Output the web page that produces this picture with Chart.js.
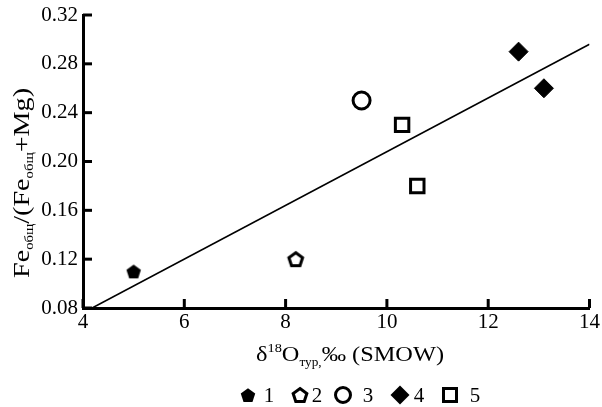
<!DOCTYPE html>
<html>
<head>
<meta charset="utf-8">
<script src="https://cdn.jsdelivr.net/npm/chart.js@4.4.0/dist/chart.umd.min.js"></script>
<style>
  html, body { margin: 0; padding: 0; background: #fff; }
  #wrap { width: 602px; height: 407px; }
</style>
</head>
<body>
<div id="wrap"><canvas id="chart"></canvas></div>
<script>
// Data
const xTicks = [4, 6, 8, 10, 12, 14];
const yTicks = [0.08, 0.12, 0.16, 0.20, 0.24, 0.28, 0.32];

const group1X = [5.0];
const group1Y = [0.11];
const group2X = [8.2];
const group2Y = [0.12];
const group3X = [9.5];
const group3Y = [0.25];
const group4X = [12.6, 13.1];
const group4Y = [0.29, 0.26];
const group5X = [10.3, 10.6];
const group5Y = [0.23, 0.18];

const trendX = [4.18, 14];
const trendY = [0.08, 0.296];

const legendLabels = ['1', '2', '3', '4', '5'];

const SERIF = '"Liberation Serif", "Times New Roman", serif';

function pts(xs, ys) {
    return xs.map((x, i) => ({ x: x, y: ys[i] }));
}

// Pentagon marker (not a built-in Chart.js point style)
function pentagon(r, filled) {
    const lw = filled ? 0 : 3;
    const s = Math.ceil(2 * r + lw + 4);
    const cv = document.createElement('canvas');
    cv.width = s;
    cv.height = s;
    const g = cv.getContext('2d');
    const cy = s / 2 + r * 0.1;
    g.beginPath();
    for (let i = 0; i < 5; i++) {
        const a = -Math.PI / 2 + i * 2 * Math.PI / 5;
        g.lineTo(s / 2 + r * Math.cos(a), cy + r * Math.sin(a));
    }
    g.closePath();
    if (filled) {
        g.fillStyle = '#000';
        g.fill();
    } else {
        g.fillStyle = '#fff';
        g.fill();
        g.lineWidth = lw;
        g.strokeStyle = '#000';
        g.stroke();
    }
    return cv;
}

const pentFilled = pentagon(7.6, true);
const pentOpen = pentagon(7.2, false);

// Text with sub/superscripts: parts = [[text, size, dy]]
function richWidth(ctx, parts) {
    let w = 0;
    parts.forEach(p => {
        ctx.font = p[1] + 'px ' + SERIF;
        w += ctx.measureText(p[0]).width;
    });
    return w;
}

function drawRich(ctx, parts, x, y) {
    let cx = x;
    parts.forEach(p => {
        ctx.font = p[1] + 'px ' + SERIF;
        ctx.fillText(p[0], cx, y + p[2]);
        cx += ctx.measureText(p[0]).width;
    });
}

const yTitle = [['Fe', 23, 0], ['общ', 12, 4], ['/(Fe', 23, 0], ['общ', 12, 4], ['+Mg)', 23, 0]];
const xTitle = [['δ', 22, 0], ['18', 13, -9], ['O', 22, 0], ['тур,', 12, 5], ['‰ (SMOW)', 22, 0]];

const extras = {
    id: 'extras',
    afterDraw(chart) {
        const { ctx, chartArea: a, scales: { x, y } } = chart;
        ctx.save();

        // inward tick marks
        ctx.strokeStyle = '#000';
        ctx.lineWidth = 3;
        xTicks.forEach(v => {
            const px = x.getPixelForValue(v);
            ctx.beginPath();
            ctx.moveTo(px, a.bottom);
            ctx.lineTo(px, a.bottom - 9);
            ctx.stroke();
        });
        yTicks.forEach(v => {
            const py = y.getPixelForValue(v);
            ctx.beginPath();
            ctx.moveTo(a.left, py);
            ctx.lineTo(a.left + 9, py);
            ctx.stroke();
        });

        // axis titles
        ctx.fillStyle = '#000';
        ctx.textBaseline = 'alphabetic';
        ctx.textAlign = 'left';
        const xw = richWidth(ctx, xTitle);
        const xs = 188 / xw;
        ctx.save();
        ctx.translate(350, 361);
        ctx.scale(xs, 1);
        drawRich(ctx, xTitle, -xw / 2, 0);
        ctx.restore();

        const yw = richWidth(ctx, yTitle);
        const ys = 190 / yw;
        ctx.save();
        ctx.translate(29, 183);
        ctx.rotate(-Math.PI / 2);
        ctx.scale(ys, 1);
        drawRich(ctx, yTitle, -yw / 2, 0);
        ctx.restore();

        // legend
        const ly = 395;
        const markX = [248, 300, 343, 400, 450];
        const textX = [269, 317, 368, 419, 475];
        ctx.drawImage(pentFilled, markX[0] - pentFilled.width / 2, ly - pentFilled.height / 2);
        ctx.drawImage(pentOpen, markX[1] - pentOpen.width / 2, ly - pentOpen.height / 2);
        ctx.lineWidth = 3;
        ctx.beginPath();
        ctx.arc(markX[2], ly, 7.5, 0, Math.PI * 2);
        ctx.stroke();
        ctx.beginPath();
        ctx.moveTo(markX[3], ly - 9.5);
        ctx.lineTo(markX[3] + 9.5, ly);
        ctx.lineTo(markX[3], ly + 9.5);
        ctx.lineTo(markX[3] - 9.5, ly);
        ctx.closePath();
        ctx.fill();
        ctx.strokeRect(markX[4] - 6.5, ly - 6.5, 13, 13);
        ctx.font = '21px ' + SERIF;
        ctx.textAlign = 'center';
        ctx.textBaseline = 'middle';
        legendLabels.forEach((t, i) => ctx.fillText(t, textX[i], ly + 1));

        ctx.restore();
    }
};

const ctx = document.getElementById('chart').getContext('2d');
const chart = new Chart(ctx, {
    type: 'scatter',
    data: {
        datasets: [
            {
                type: 'line',
                data: pts(trendX, trendY),
                borderColor: '#000',
                borderWidth: 1.6,
                pointRadius: 0,
                fill: false
            },
            {
                data: pts(group1X, group1Y),
                pointStyle: pentFilled
            },
            {
                data: pts(group2X, group2Y),
                pointStyle: pentOpen
            },
            {
                data: pts(group3X, group3Y),
                pointStyle: 'circle',
                pointRadius: 8.5,
                borderWidth: 3,
                borderColor: '#000',
                backgroundColor: '#fff'
            },
            {
                data: pts(group4X, group4Y),
                pointStyle: 'rectRot',
                pointRadius: 9.5,
                borderWidth: 1,
                borderColor: '#000',
                backgroundColor: '#000'
            },
            {
                data: pts(group5X, group5Y),
                pointStyle: 'rect',
                pointRadius: 9.5,
                borderWidth: 3,
                borderColor: '#000',
                backgroundColor: '#fff'
            }
        ]
    },
    options: {
        responsive: true,
        maintainAspectRatio: false,
        animation: false,
        layout: {
            padding: { left: 0, right: 7, top: 15, bottom: 0 }
        },
        plugins: {
            legend: { display: false },
            tooltip: { enabled: false }
        },
        scales: {
            x: {
                type: 'linear',
                min: 4,
                max: 14,
                afterBuildTicks: (s) => { s.ticks = xTicks.map(v => ({ value: v })); },
                afterFit: (s) => { s.height = 99; s.paddingRight = 0; s.paddingLeft = 0; },
                ticks: {
                    color: '#000',
                    font: { family: SERIF, size: 21 },
                    padding: 2
                },
                grid: { drawOnChartArea: false, drawTicks: false },
                border: { color: '#000', width: 3 }
            },
            y: {
                type: 'linear',
                min: 0.08,
                max: 0.32,
                afterBuildTicks: (s) => { s.ticks = yTicks.map(v => ({ value: v })); },
                afterFit: (s) => { s.width = 83; s.paddingTop = 0; s.paddingBottom = 0; },
                ticks: {
                    color: '#000',
                    font: { family: SERIF, size: 21 },
                    padding: 5,
                    callback: (v) => v.toFixed(2)
                },
                grid: { drawOnChartArea: false, drawTicks: false },
                border: { color: '#000', width: 3 }
            }
        }
    },
    plugins: [extras]
});
</script>
</body>
</html>
